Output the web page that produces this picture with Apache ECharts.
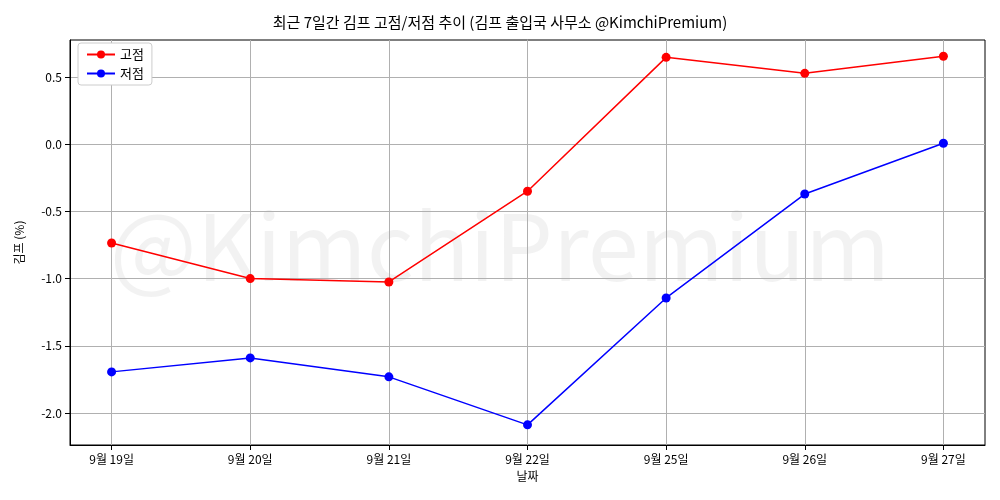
<!DOCTYPE html>
<html><head><meta charset="utf-8">
<script src="https://cdn.jsdelivr.net/npm/echarts@6/dist/echarts.min.js"></script>
<style>body{margin:0}#c{width:1000px;height:500px}</style></head>
<body><div id="c"></div>
<script>
const categories=['9월 19일','9월 20일','9월 21일','9월 22일','9월 25일','9월 26일','9월 27일'];
const highs=[-0.735,-1.0,-1.025,-0.35,0.646,0.527,0.654];
const lows=[-1.694,-1.59,-1.731,-2.088,-1.144,-0.371,0.007];
const yTicks=[-2.0,-1.5,-1.0,-0.5,0.0,0.5];
const F='"Noto Sans CJK KR", sans-serif';
const chart=echarts.init(document.getElementById('c'));
chart.setOption({
 animation:false,
 title:{text:'최근 7일간 김프 고점/저점 추이 (김프 출입국 사무소 @KimchiPremium)',left:'center',top:10,textStyle:{fontFamily:F,fontSize:15,fontWeight:'normal',color:'#000'}},
 graphic:[{type:'text',left:'center',top:200,z:0,style:{text:'@KimchiPremium',font:'92px '+F,fill:'rgba(0,0,0,0.05)'}}],
 legend:{left:78,top:43,orient:'vertical',itemGap:6,backgroundColor:'#fff',borderColor:'#ccc',borderWidth:1,borderRadius:3,padding:[5,8],
   textStyle:{fontFamily:F,fontSize:13,color:'#000'},itemWidth:28,itemHeight:10,data:['고점','저점']},
 grid:{left:70,right:15,top:40,bottom:55,show:true,borderColor:'#000',borderWidth:1},
 xAxis:{type:'value',min:-0.3,max:6.3,interval:1,name:'날짜',nameLocation:'middle',nameGap:25,nameTextStyle:{fontFamily:F,fontSize:12,color:'#000'},
   axisLine:{onZero:false,lineStyle:{color:'#000'}},
   axisLabel:{fontFamily:F,fontSize:12,color:'#000',customValues:[0,1,2,3,4,5,6],formatter:v=>categories[Math.round(v)]||''},
   axisTick:{show:true,customValues:[0,1,2,3,4,5,6],lineStyle:{color:'#000'}},
   splitLine:{show:true,lineStyle:{color:'#b0b0b0'}}},
 yAxis:{type:'value',min:-2.238,max:0.775,name:'김프 (%)',nameLocation:'middle',nameGap:45,nameTextStyle:{fontFamily:F,fontSize:12,color:'#000'},
   axisLine:{show:true,onZero:false,lineStyle:{color:'#000'}},axisTick:{show:true,customValues:yTicks,lineStyle:{color:'#000'}},
   axisLabel:{fontFamily:F,fontSize:12,color:'#000',customValues:yTicks,formatter:v=>v.toFixed(1)},
   splitLine:{show:true,lineStyle:{color:'#b0b0b0'}}},
 series:[
  {name:'고점',type:'line',data:highs.map((v,i)=>[i,v]),color:'#ff0000',symbol:'circle',symbolSize:9,lineStyle:{width:1.5}},
  {name:'저점',type:'line',data:lows.map((v,i)=>[i,v]),color:'#0000ff',symbol:'circle',symbolSize:9,lineStyle:{width:1.5}}
 ]
});
</script></body></html>
